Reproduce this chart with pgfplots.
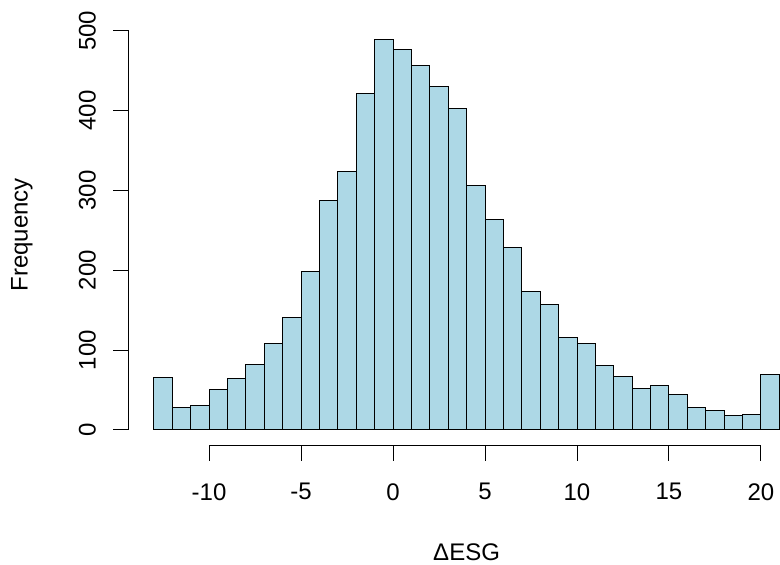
\documentclass[border=0pt]{standalone}
\usepackage{fontspec}
\setmainfont{Liberation Sans}
\usepackage{pgfplots}
\pgfplotsset{compat=1.18}
\definecolor{rlightblue}{HTML}{ADD8E6}
\begin{document}
\begin{tikzpicture}
\begin{axis}[
  name=ax,
  at={(0,0)}, anchor=south west,
  scale only axis,
  width=337.8pt, height=210.75pt,
  xmin=-14.36, xmax=22.36,
  ymin=-19.56, ymax=508.56,
  clip=false,
  axis x line*=bottom, axis y line*=left,
  axis line style={draw=none},
  tick style={black, line width=0.5pt},
  tick align=outside,
  major tick length=7.75pt,
  xtick={-10,-5,0,5,10,15,20},
  ytick={0,100,200,300,400,500},
  /pgf/number format/assume math mode=true,
  tick label style={font=\fontsize{12}{14}\selectfont},
  yticklabel style={rotate=90, anchor=south, inner sep=0pt, yshift=8.5pt},
  xticklabel style={anchor=north, inner sep=0pt, yshift=-11pt},
  label style={font=\fontsize{12}{14}\selectfont},
  xlabel={ΔESG},
  ylabel={Frequency},
  xlabel style={at={(axis description cs:0.5,0)}, anchor=center, yshift=-53.5pt},
  ylabel style={at={(axis description cs:0,0.5)}, anchor=center, yshift=53.5pt},
]
\addplot[ybar interval, fill=rlightblue, draw=black, line width=0.5pt] coordinates {
(-13,66) (-12,28) (-11,31) (-10,50) (-9,64) (-8,82) (-7,108) (-6,141)
(-5,198) (-4,288) (-3,324) (-2,421) (-1,489) (0,477) (1,456) (2,430)
(3,403) (4,306) (5,263) (6,228) (7,174) (8,157) (9,116) (10,108)
(11,81) (12,67) (13,52) (14,56) (15,44) (16,28) (17,24) (18,18)
(19,19) (20,70) (21,70)
};
\draw[black, line width=0.5pt] (axis cs:-14.36,0) -- (axis cs:-14.36,500);
\draw[black, line width=0.5pt] (axis cs:-10,-19.56) -- (axis cs:20,-19.56);
\end{axis}
\pgfresetboundingbox
\useasboundingbox (-64.4pt,-59.7pt) rectangle (325.6pt,222.75pt);
\end{tikzpicture}
\end{document}
